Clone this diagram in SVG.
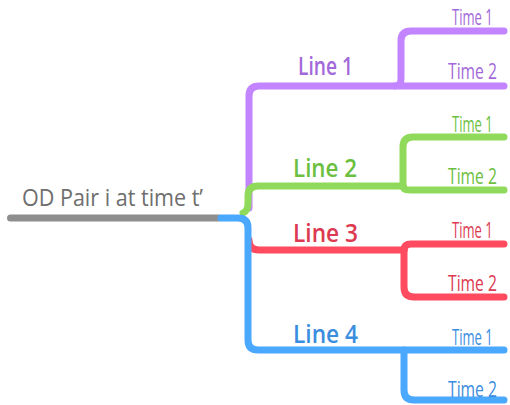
<svg xmlns="http://www.w3.org/2000/svg" width="510" height="405" viewBox="0 0 510 405">
<style>
.c{fill:none;stroke-width:7;stroke-linecap:round;stroke-linejoin:round}
.gr{stroke:#8e8e8e}.pu{stroke:#c385ff}.re{stroke:#ff4b5f}.gn{stroke:#8fd95b}.bl{stroke:#4aa8ff}
text{font-family:"Open Sans","Noto Sans","Liberation Sans",sans-serif}
.root{font-size:24px;fill:#6e6e6e}
.ln{font-size:26px;font-weight:600}
.tm{font-size:22px}
.tpu{fill:#a368d9}.tgn{fill:#6cbf3f}.tre{fill:#dc3a50}.tbl{fill:#3b8de0}
</style>
<rect width="510" height="405" fill="#ffffff"/>
<g id="connectors">
<path class="c gr" d="M10.5,218 L219,218"/>
<path class="c pu" d="M249,208 L249,96 Q249,86 259,86 L504,86"/>
<path class="c pu" d="M395,86 Q401,86 401,79 L401,41 Q401,31 411,31 L504,31"/>
<path class="c re" d="M249,240 Q249,250 259,250 L404,250"/>
<path class="c re" d="M404,250 Q404,244 411,244 L504,244"/>
<path class="c re" d="M404,250 L404,287 Q404,297 414,297 L504,297"/>
<path class="c gn" d="M243,213 Q248,211 248,203 L248,196 Q248,186 258,186 L403,186"/>
<path class="c gn" d="M403,186 L403,147 Q403,137 413,137 L504,137"/>
<path class="c gn" d="M403,186 Q403,190 410,190 L504,190"/>
<path class="c bl" d="M221,218 L238,218 Q248,218 248,228 L248,340 Q248,350 258,350 L504,350"/>
<path class="c bl" d="M404,350 L404,390 Q404,400 414,400 L504,400"/>
</g>
<g id="root"><text class="root" x="22" y="206" textLength="181" lengthAdjust="spacingAndGlyphs">OD Pair i at time t’</text></g>
<g id="line1"><text class="ln tpu" x="298" y="75" textLength="55" lengthAdjust="spacingAndGlyphs">Line 1</text></g>
<g id="line1-time1"><text class="tm tpu" transform="translate(452,25) scale(0.6,1)" textLength="68" lengthAdjust="spacingAndGlyphs">Time 1</text></g>
<g id="line1-time2"><text class="tm tpu" transform="translate(448,79) scale(0.72,1)" textLength="68" lengthAdjust="spacingAndGlyphs">Time 2</text></g>
<g id="line2"><text class="ln tgn" x="293" y="177" textLength="64" lengthAdjust="spacingAndGlyphs">Line 2</text></g>
<g id="line2-time1"><text class="tm tgn" transform="translate(452,132) scale(0.6,1)" textLength="68" lengthAdjust="spacingAndGlyphs">Time 1</text></g>
<g id="line2-time2"><text class="tm tgn" transform="translate(448,184) scale(0.72,1)" textLength="68" lengthAdjust="spacingAndGlyphs">Time 2</text></g>
<g id="line3"><text class="ln tre" x="293" y="242" textLength="65" lengthAdjust="spacingAndGlyphs">Line 3</text></g>
<g id="line3-time1"><text class="tm tre" transform="translate(452,238) scale(0.6,1)" textLength="68" lengthAdjust="spacingAndGlyphs">Time 1</text></g>
<g id="line3-time2"><text class="tm tre" transform="translate(448,291) scale(0.72,1)" textLength="68" lengthAdjust="spacingAndGlyphs">Time 2</text></g>
<g id="line4"><text class="ln tbl" x="293" y="343" textLength="65" lengthAdjust="spacingAndGlyphs">Line 4</text></g>
<g id="line4-time1"><text class="tm tbl" transform="translate(452,345) scale(0.6,1)" textLength="68" lengthAdjust="spacingAndGlyphs">Time 1</text></g>
<g id="line4-time2"><text class="tm tbl" transform="translate(448,397) scale(0.72,1)" textLength="68" lengthAdjust="spacingAndGlyphs">Time 2</text></g>
</svg>
